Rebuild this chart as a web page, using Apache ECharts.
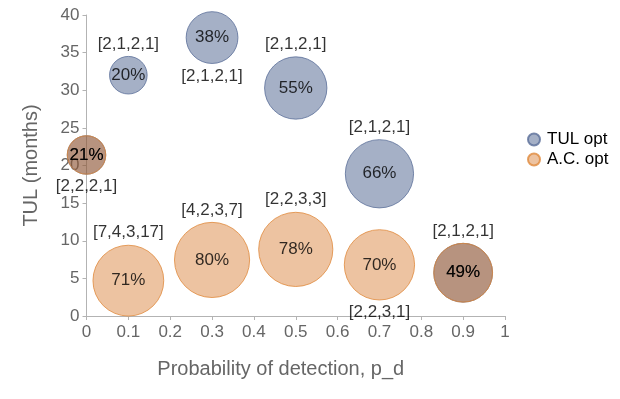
<!DOCTYPE html>
<html>
<head>
<meta charset="utf-8">
<script src="https://cdn.jsdelivr.net/npm/echarts@6/dist/echarts.min.js"></script>
<style>
  html, body { margin: 0; padding: 0; background: #fff; }
  #main { width: 620px; height: 399px; }
</style>
</head>
<body>
<div id="main"></div>
<script>
// probability of detection (x)
var pd_list = [0, 0.1, 0.3, 0.5, 0.7, 0.9];

// TUL opt
var tul_tul = [21.4, 32, 37, 30.3, 18.9, 5.75];
var tul_pct = [21, 20, 38, 55, 66, 49];
var tul_cfg = ['[2,2,2,1]', '[2,1,2,1]', '[2,1,2,1]', '[2,1,2,1]', '[2,1,2,1]', '[2,1,2,1]'];
var tul_pos = ['bottom', 'top', 'bottom', 'top', 'top', 'top'];

// A.C. opt
var ac_tul = [21.4, 4.7, 7.45, 8.85, 6.8, 5.75];
var ac_pct = [21, 71, 80, 78, 70, 49];
var ac_cfg = ['', '[7,4,3,17]', '[4,2,3,7]', '[2,2,3,3]', '[2,2,3,1]', ''];
var ac_pos = ['top', 'top', 'top', 'top', 'bottom', 'top'];

var x_ticks = [0, 0.1, 0.2, 0.3, 0.4, 0.5, 0.6, 0.7, 0.8, 0.9, 1];

var font = 'Liberation Sans';
var chart = echarts.init(document.getElementById('main'));

function bubbleData(tul, pct) {
    return pd_list.map(function (x, i) { return [x, tul[i], pct[i]]; });
}
function cfgData(tul, pct, cfg, pos) {
    return pd_list.map(function (x, i) {
        return {
            value: [x, tul[i], pct[i]],
            label: { position: pos[i], formatter: cfg[i] }
        };
    }).filter(function (d) { return d.label.formatter !== ''; });
}
// bubble area ~ percentage
function size(v) { return Math.sqrt(v[2]) * 8.4; }

var pctLabel = {
    show: true,
    position: 'inside',
    formatter: function (p) { return p.value[2] + '%'; },
    color: '#000',
    fontFamily: font,
    fontSize: 17
};
var cfgLabel = {
    show: true,
    distance: 4,
    color: '#000',
    fontFamily: font,
    fontSize: 17
};

var option = {
    animation: false,
    textStyle: { fontFamily: font },
    grid: { left: 86.5, right: 115, top: 15, bottom: 83 },
    legend: {
        data: ['TUL opt', 'A.C. opt'],
        orient: 'vertical',
        left: 522,
        top: 126,
        itemGap: 3,
        itemWidth: 12,
        itemHeight: 12,
        icon: 'circle',
        textStyle: { color: '#000', fontSize: 17, fontFamily: font, padding: [0, 0, 0, 2] }
    },
    xAxis: {
        type: 'value',
        min: 0,
        max: 1,
        interval: 0.1,
        name: 'Probability of detection, p_d',
        nameLocation: 'middle',
        nameGap: 43,
        nameTextStyle: { color: '#666', fontSize: 20, fontFamily: font, padding: [0, 30, 0, 0] },
        axisLine: { lineStyle: { color: '#b3b3b3' } },
        axisTick: { show: true, length: 4, lineStyle: { color: '#b3b3b3' } },
        axisLabel: {
            color: '#666', fontSize: 17, margin: 8,
            formatter: function (v) {
                var t = x_ticks.filter(function (k) { return Math.abs(k - v) < 1e-6; });
                return t.length ? String(t[0]) : '';
            }
        },
        splitLine: { show: false }
    },
    yAxis: {
        type: 'value',
        min: 0,
        max: 40,
        interval: 5,
        name: 'TUL (months)',
        nameLocation: 'middle',
        nameGap: 45,
        nameTextStyle: { color: '#666', fontSize: 20, fontFamily: font },
        axisLine: { show: true, lineStyle: { color: '#b3b3b3' } },
        axisTick: { show: true, length: 4, lineStyle: { color: '#b3b3b3' } },
        axisLabel: { color: '#666', fontSize: 17, margin: 7 },
        splitLine: { show: false }
    },
    series: [
        {
            name: 'TUL opt',
            type: 'scatter',
            symbolSize: size,
            itemStyle: { color: 'rgba(29,57,113,0.5)', borderColor: '#5a6e98', borderWidth: 1 },
            label: pctLabel,
            data: bubbleData(tul_tul, tul_pct)
        },
        {
            name: 'A.C. opt',
            type: 'scatter',
            symbolSize: size,
            itemStyle: { color: 'rgba(209,105,21,0.5)', borderColor: '#e0893c', borderWidth: 1 },
            label: pctLabel,
            data: bubbleData(ac_tul, ac_pct)
        },
        {
            // bracket labels, drawn over invisible bubbles of the same size
            name: 'cfg',
            type: 'scatter',
            silent: true,
            symbolSize: size,
            itemStyle: { color: 'rgba(0,0,0,0)' },
            label: cfgLabel,
            data: cfgData(tul_tul, tul_pct, tul_cfg, tul_pos).concat(cfgData(ac_tul, ac_pct, ac_cfg, ac_pos))
        }
    ]
};

chart.setOption(option);
</script>
</body>
</html>
